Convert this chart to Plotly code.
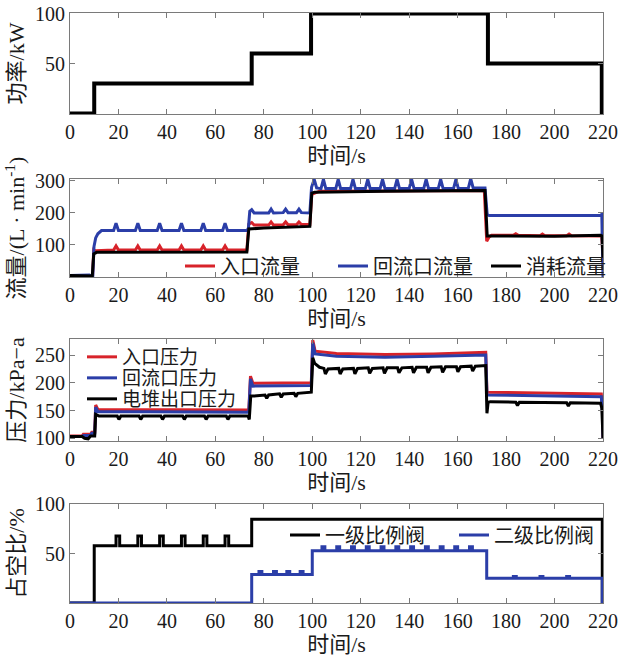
import plotly.graph_objects as go

# ---------------- data ----------------
TIME_TICKS = [0, 20, 40, 60, 80, 100, 120, 140, 160, 180, 200, 220]

# Panel 1: power (step signal)
POWER_T = [0, 10, 75, 99.5, 172.5, 219.5, 220]
POWER_KW = [0, 30, 60, 100, 50, 0, 0]

# Panel 2: flows (L/min)
INLET_FLOW = [(0, 5), (8.5, 5), (9.3, 2), (9.8, 85), (10.5, 82),
              (18, 84), (19, 97), (20, 84), (27, 84), (28, 97), (29, 84),
              (36, 84), (37, 97), (38, 84), (45, 84), (46, 97), (47, 84),
              (54, 84), (55, 97), (56, 84), (63, 84), (64, 97), (65, 84),
              (73, 84), (73.8, 165), (75, 170), (76, 162),
              (82, 162), (83, 172), (84, 162), (88, 163), (89, 172), (90, 163),
              (93.5, 163), (94.5, 172), (95.5, 164),
              (99, 164), (99.8, 258), (101, 262), (103, 268),
              (171, 270), (172, 112), (173, 125), (174, 130),
              (183, 130), (184, 135), (185, 130), (194, 129), (195, 134), (196, 129),
              (205, 129), (206, 134), (207, 129), (219.5, 128), (220, 60)]

RETURN_FLOW = [(0, 5), (8, 6), (8.8, 3), (9.4, 1), (9.9, 95), (10.6, 122), (11.5, 135), (13, 145),
               (18, 145), (19, 168), (20, 145), (27, 145), (28, 168), (29, 145),
               (36, 145), (37, 168), (38, 145), (45, 145), (46, 168), (47, 145),
               (54, 145), (55, 168), (56, 145), (63, 145), (64, 168), (65, 145),
               (72.8, 145), (73.6, 150), (74.2, 205), (75, 210), (76, 200),
               (82, 200), (83, 212), (84, 200), (88, 201), (89, 212), (90, 201),
               (93.5, 201), (94.5, 212), (95.5, 201),
               (99, 200), (99.7, 280), (100.8, 305), (101.8, 278),
               (103.6, 276), (104.6, 305), (105.6, 276), (109.7, 276), (110.7, 305), (111.7, 276),
               (115.8, 276), (116.8, 305), (117.8, 276), (121.9, 276), (122.9, 305), (123.9, 276),
               (128, 276), (129, 305), (130, 276), (134, 276), (135, 305), (136, 276),
               (140, 276), (141, 305), (142, 276), (146, 276), (147, 305), (148, 276),
               (152, 276), (153, 305), (154, 276), (158.3, 276), (159.3, 305), (160.3, 276),
               (164.4, 277), (165.4, 307), (166.4, 278),
               (171.3, 278), (172.2, 195), (173, 192), (219, 193), (219.5, 195), (220, 0)]

CONSUMED_FLOW = [(0, 5), (8.5, 5), (9.2, 3), (9.8, 72), (11, 77), (73, 78), (73.8, 150),
                 (80, 153), (90, 156), (99, 158), (99.8, 262), (101, 265), (130, 268),
                 (171.3, 270), (172.2, 128), (200, 127), (219, 130), (219.6, 128), (220, 60)]

# Panel 3: pressures (kPa-a)
PRESS_T = [0, 5, 5.5, 8.5, 9, 10.2, 10.6, 11.5, 73.8, 74.5, 75.5, 99.6, 100.2, 101.2,
           110, 130, 150, 171.6, 172.1, 200, 219.3, 219.8, 220]
INLET_P = [104, 104, 107, 107, 111, 111, 160, 152, 151, 212, 199, 200, 277, 257,
           253, 251, 252, 255, 183, 181, 180, 150, 100]
RETURN_P = [103, 103, 105, 105, 109, 109, 156, 148, 147, 207, 194, 195, 272, 252,
            248, 246, 248, 250, 178, 176, 175, 145, 100]

STACK_OUT_P = [(0, 103), (5, 103), (6, 100), (7.5, 99), (8.5, 104), (10.2, 104), (10.6, 143), (12, 140),
               (19.5, 140), (20.2, 134), (21, 140), (28.5, 140), (29.2, 134), (30, 140),
               (37.5, 140), (38.2, 134), (39, 140), (46.5, 140), (47.2, 134), (48, 140),
               (55.5, 140), (56.2, 134), (57, 140), (64.5, 140), (65.2, 134), (66, 140),
               (73.5, 140), (74, 134), (74.6, 176), (76, 176),
               (80.5, 178), (81.2, 172), (82, 178), (86.5, 180), (87.2, 174), (88, 180),
               (92.5, 181), (93.2, 175), (94, 181),
               (99.6, 183), (100.2, 245), (101, 235), (103, 228),
               (104.8, 226), (105.4, 216), (106.5, 225), (110.9, 226), (111.5, 216), (112.6, 225),
               (117, 226), (117.6, 216), (118.7, 226), (123.1, 227), (123.7, 217), (124.8, 226),
               (129.2, 227), (129.8, 217), (130.9, 227), (135.2, 227), (135.8, 218), (137, 227),
               (141.2, 228), (141.8, 218), (143, 228), (147.2, 228), (147.8, 218), (149, 228),
               (153.2, 229), (153.8, 219), (155, 229), (159.5, 229), (160.1, 220), (161.2, 229),
               (165.6, 230), (166.2, 221), (167.3, 230),
               (171.6, 231), (172.1, 145), (172.6, 165), (173.5, 166),
               (184, 165), (184.7, 159), (185.5, 165), (205, 164), (205.7, 158), (206.5, 164),
               (219, 163), (219.5, 155), (220, 100)]

# Panel 4: duty cycle (%) (step signals)
VALVE1_T = [0, 10, 19, 20.5, 28, 29.5, 37, 38.5, 46, 47.5, 55, 56.5, 64, 65.5, 75, 219.7, 220]
VALVE1_D = [0, 58, 68, 58, 68, 58, 68, 58, 68, 58, 68, 58, 68, 58, 85, 0, 0]

VALVE2_T = [0, 75, 78, 79.2, 84, 85.2, 89.5, 90.7, 95, 96.2,
            100, 104, 105.2, 110.1, 111.3, 116.2, 117.4, 122.3, 123.5, 128.4, 129.6,
            134.5, 135.7, 140.6, 141.8, 146.7, 147.9, 152.8, 154, 158.8, 160, 164.9, 166.1,
            172, 183, 184.2, 194, 195.2, 205, 206.2, 219.7, 220]
VALVE2_D = [0, 29, 32, 29, 32, 29, 32, 29, 32, 29,
            53, 57, 53, 57, 53, 57, 53, 57, 53, 57, 53,
            57, 53, 57, 53, 57, 53, 57, 53, 57, 53, 57, 53,
            25, 27, 25, 27, 25, 27, 25, 0, 0]

# ---------------- styling ----------------
FONT = "Liberation Serif, 'Noto Sans CJK SC', serif"
TXT = "#1a1a1a"
AX = "#7a7a7a"
RED = "#d8232a"
BLUE = "#2b3ea8"
BLACK = "#000000"

W, H = 625, 660
ML, MR, MT, MB = 70, 22, 13, 57
PH = H - MT - MB
PW = W - ML - MR


def dom(top_px, bot_px):
    return [(H - MB - bot_px) / PH, (H - MB - top_px) / PH]


def px_x(x):
    return (x - ML) / PW


def px_y(y):
    return (H - MB - y) / PH


def unzip(pairs):
    return [p[0] for p in pairs], [p[1] for p in pairs]


fig = go.Figure()

fig.add_trace(go.Scatter(x=POWER_T, y=POWER_KW, mode="lines", line=dict(color=BLACK, width=4, shape="hv"),
                         xaxis="x", yaxis="y", showlegend=False))

for name, pairs, col in [("入口流量", INLET_FLOW, RED), ("回流口流量", RETURN_FLOW, BLUE),
                         ("消耗流量", CONSUMED_FLOW, BLACK)]:
    tx, vy = unzip(pairs)
    fig.add_trace(go.Scatter(x=tx, y=vy, mode="lines", name=name, line=dict(color=col, width=3),
                             xaxis="x2", yaxis="y2", legend="legend"))

tpo, vpo = unzip(STACK_OUT_P)
for name, tx, vy, col, lg in [("入口压力", PRESS_T, INLET_P, RED, "legend2"),
                              ("回流口压力", PRESS_T, RETURN_P, BLUE, "legend4"),
                              ("电堆出口压力", tpo, vpo, BLACK, "legend5")]:
    fig.add_trace(go.Scatter(x=tx, y=vy, mode="lines", name=name, line=dict(color=col, width=3),
                             xaxis="x3", yaxis="y3", legend=lg))

fig.add_trace(go.Scatter(x=VALVE1_T, y=VALVE1_D, mode="lines", name="一级比例阀",
                         line=dict(color=BLACK, width=3, shape="hv"), xaxis="x4", yaxis="y4", legend="legend3"))
fig.add_trace(go.Scatter(x=VALVE2_T, y=VALVE2_D, mode="lines", name="二级比例阀",
                         line=dict(color=BLUE, width=3, shape="hv"), xaxis="x4", yaxis="y4", legend="legend3"))


def xax(anchor):
    return dict(domain=[0, 1], anchor=anchor, range=[0, 220], tickvals=TIME_TICKS, ticks="inside",
                ticklen=5, tickwidth=1, tickcolor=AX, showline=True, linecolor=AX, linewidth=1,
                mirror="allticks", showgrid=False, zeroline=False, automargin=False,
                tickfont=dict(family=FONT, size=20, color=TXT),
                title=dict(text="时间/s", font=dict(family=FONT, size=22, color=TXT), standoff=4))


def yax(anchor, d, rng, tv, title):
    return dict(domain=d, anchor=anchor, range=rng, tickvals=tv, ticks="inside", ticklen=5, tickwidth=1,
                tickcolor=AX, showline=True, linecolor=AX, linewidth=1, mirror="allticks",
                showgrid=False, zeroline=False, automargin=False,
                tickfont=dict(family=FONT, size=20, color=TXT),
                title=dict(text=title, font=dict(family=FONT, size=22, color=TXT), standoff=4))


legfont = dict(family=FONT, size=20, color=TXT)
rowfont = dict(family=FONT, size=19, color=TXT)


def rowleg(y_px):
    return dict(orientation="v", x=px_x(82), xanchor="left", y=px_y(y_px), yanchor="middle",
                bgcolor="rgba(0,0,0,0)", font=rowfont)


fig.update_layout(
    width=W, height=H, margin=dict(l=ML, r=MR, t=MT, b=MB, autoexpand=False),
    paper_bgcolor="white", plot_bgcolor="white",
    xaxis=xax("y"), yaxis=yax("x", dom(13, 114), [-0.5, 100.5], [50, 100], "功率/kW"),
    xaxis2=xax("y2"), yaxis2=yax("x2", dom(179, 277), [0, 306], [100, 200, 300], "流量/(L · min<sup>-1</sup>)"),
    xaxis3=xax("y3"), yaxis3=yax("x3", dom(339, 441), [95, 279], [100, 150, 200, 250], "压力/kPa−a"),
    xaxis4=xax("y4"), yaxis4=yax("x4", dom(504, 603), [0, 100.5], [50, 100], "占空比/%"),
    legend=dict(orientation="h", x=px_x(180), xanchor="left", y=px_y(266), yanchor="middle",
                bgcolor="rgba(0,0,0,0)", font=legfont, entrywidth=108, entrywidthmode="pixels"),
    legend2=rowleg(357),
    legend4=rowleg(378),
    legend5=rowleg(399),
    legend3=dict(orientation="h", x=px_x(285), xanchor="left", y=px_y(535), yanchor="middle",
                 bgcolor="rgba(0,0,0,0)", font=legfont, entrywidth=124, entrywidthmode="pixels"),
)

fig.write_html(
    "out.html",
    config={"displayModeBar": False},
    post_script="document.body.style.margin='0';document.body.style.overflow='hidden';"
                "document.documentElement.style.overflow='hidden';",
)
